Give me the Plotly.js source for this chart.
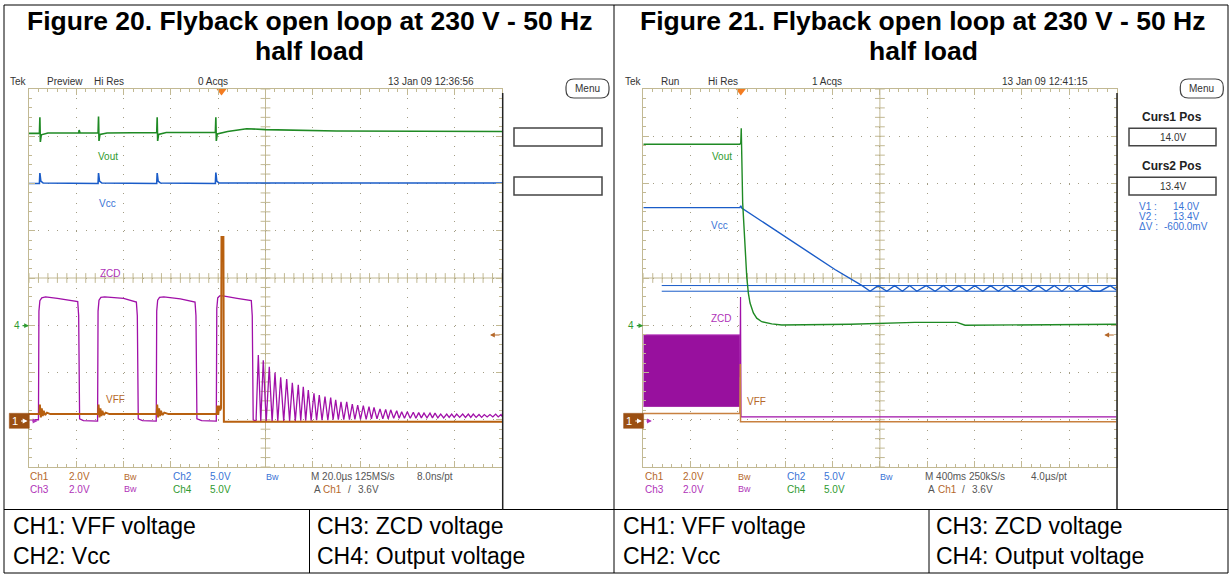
<!DOCTYPE html>
<html><head><meta charset="utf-8">
<script src="https://cdn.plot.ly/plotly-3.0.1.min.js"></script>
<style>html,body{margin:0;padding:0;background:#fff;}#chart{width:1231px;height:574px;}</style>
</head><body><div id="chart"></div>
<script>
// ===== DATA (oscilloscope graticule units: x = divisions 0..10, y = divisions 0..8) =====
// Figure 20 (M 20.0 µs/div)
const f20VoutX = [0.00,0.22,0.23,0.24,0.26,0.40,1.05,1.06,1.08,1.46,1.47,1.48,1.50,1.65,2.70,2.71,2.72,2.74,2.90,3.94,3.95,3.96,3.98,4.20,4.60,5.00,6.50,10.0];
const f20VoutY = [7.06,7.06,7.40,6.88,7.03,7.07,7.07,7.13,7.07,7.07,7.42,6.90,7.04,7.07,7.08,7.40,6.90,7.04,7.08,7.08,7.40,6.90,7.05,7.10,7.16,7.14,7.11,7.10];
const f20VccX = [0.00,0.22,0.23,0.25,0.30,1.46,1.47,1.49,1.54,2.70,2.71,2.73,2.78,3.94,3.95,3.97,4.02,10.0];
const f20VccY = [6.00,6.00,6.22,6.05,6.01,6.00,6.22,6.05,6.01,6.00,6.22,6.05,6.01,6.00,6.23,6.05,6.01,6.01];
const f20ZcdX = [0.00,0.20,0.21,0.23,0.27,0.35,0.60,1.03,1.05,1.07,1.15,1.45,1.46,1.48,1.52,1.60,2.00,2.27,2.29,2.31,2.40,2.69,2.70,2.72,2.76,2.85,3.20,3.51,3.53,3.55,3.65,3.96,3.97,3.99,4.03,4.10,4.40,4.70,4.72,4.74,4.80];
const f20ZcdY = [1.00,1.00,3.30,3.52,3.58,3.60,3.57,3.50,3.20,1.02,0.98,0.97,3.30,3.53,3.59,3.60,3.57,3.49,3.20,1.02,0.98,0.97,3.30,3.53,3.59,3.60,3.56,3.49,3.20,1.02,0.98,0.97,3.35,3.58,3.62,3.62,3.57,3.52,3.20,1.00,0.97];
const f20RingPeakX = [4.848,4.953,5.080,5.201,5.321,5.448,5.567,5.693,5.799,5.905,6.025,6.137,6.258,6.378,6.484,6.596,6.717,6.835,6.949,7.068,7.188,7.294,7.421,7.541,7.647,7.774,7.879,7.998,8.125,8.239,8.351,8.478,8.584,8.704,8.831,8.936,9.042,9.169,9.288,9.393,9.514,9.626,9.746,9.866,9.979];
const f20RingPeakY = [2.37,2.26,2.12,2.00,1.90,1.86,1.78,1.74,1.70,1.63,1.56,1.52,1.49,1.47,1.42,1.38,1.38,1.33,1.31,1.30,1.28,1.26,1.23,1.22,1.21,1.19,1.17,1.17,1.16,1.15,1.14,1.14,1.14,1.12,1.12,1.12,1.12,1.12,1.12,1.12,1.11,1.11,1.11,1.12,1.11];
const f20RingTroughX = [4.900,5.015,5.140,5.260,5.385,5.510,5.630,5.745,5.850,5.965,6.080,6.195,6.318,6.430,6.540,6.655,6.775,6.890,7.008,7.128,7.240,7.357,7.480,7.594,7.710,7.826,7.938,8.060,8.180,8.295,8.414,8.530,8.644,8.767,8.883,8.989,9.105,9.228,9.340,9.453,9.570,9.686,9.806,9.920,10.00];
const f20RingTroughY = [0.96,0.96,0.96,0.97,0.97,0.97,0.97,0.98,0.98,0.98,0.99,0.99,0.99,1.00,1.00,1.00,1.00,1.01,1.01,1.01,1.02,1.02,1.02,1.02,1.03,1.03,1.03,1.03,1.03,1.04,1.04,1.04,1.04,1.04,1.05,1.05,1.05,1.05,1.05,1.05,1.05,1.06,1.06,1.06,1.07];
const f20VffX = [0.00,0.22,0.23,0.25,0.27,0.29,0.31,0.34,0.38,0.45,1.46,1.47,1.49,1.51,1.53,1.55,1.58,1.62,1.70,2.70,2.71,2.73,2.75,2.77,2.79,2.82,2.86,2.95,3.97,3.98,4.00,4.02,4.04,4.06,4.07,4.11,4.12,4.14,10.0];
const f20VffY = [1.12,1.12,1.32,1.05,1.24,1.08,1.19,1.10,1.15,1.12,1.12,1.32,1.05,1.24,1.08,1.19,1.10,1.15,1.12,1.12,1.32,1.05,1.24,1.08,1.19,1.10,1.15,1.12,1.12,1.30,1.10,1.30,1.20,1.25,4.87,4.87,0.96,0.96,0.96];

// Figure 21 (M 400 ms/div)
const f21VoutX = [0.00,2.04,2.06,2.07,2.10,2.135,2.17,2.186,2.22,2.256,2.326,2.397,2.503,2.715,2.926,4.37,5.74,6.63,6.80,10.0];
const f21VoutY = [6.83,6.83,6.86,7.17,5.59,4.87,4.19,4.03,3.68,3.47,3.26,3.15,3.075,3.03,3.005,3.02,3.06,3.06,3.00,3.02];
const f21VccX = [0.00,2.04,2.06,2.08,4.05,4.624,4.793,4.962,5.146,5.311,5.476,5.628,5.780,5.977,6.167,6.336,6.499,6.668,6.837,7.006,7.175,7.340,7.505,7.668,7.837,8.006,8.175,8.345,8.513,8.683,8.846,9.000,9.163,9.332,9.501,9.655,9.867,9.994];
const f21VccY = [5.49,5.49,5.53,5.48,4.18,3.84,3.72,3.84,3.72,3.84,3.72,3.84,3.72,3.84,3.72,3.84,3.72,3.84,3.72,3.84,3.72,3.84,3.72,3.84,3.72,3.84,3.72,3.84,3.72,3.84,3.72,3.84,3.72,3.84,3.72,3.72,3.84,3.75];
const f21ZcdBandX = [0.00,2.04];
const f21ZcdBandLow = [1.28,1.28];
const f21ZcdBandHigh = [2.80,2.80];
const f21ZcdX = [2.04,2.045,2.055,2.065,10.0];
const f21ZcdY = [1.90,3.60,3.60,1.06,1.06];
const f21VffX = [0.00,2.04,2.05,2.055,10.0];
const f21VffY = [1.13,1.13,2.18,0.96,0.96];
const f21CursorX = [0.39,10.0];
const f21CursorLevels = [3.84,3.72];   // Curs1 14.0 V, Curs2 13.4 V

const triggerPos = [4.07, 2.06];
const traceLabels = ['Vout','Vcc','ZCD','VFF'];
const f20LabelX = [1.66,1.66,1.72,1.82], f20LabelY = [6.57,5.57,4.10,1.43];
const f21LabelX = [1.66,1.61,1.66,2.40], f21LabelY = [6.57,5.11,3.14,1.38];

// ===== LAYOUT HELPERS =====
const W = 1231, H = 574;
const PX = x => x / W, PY = y => 1 - y / H;
const SF = '"Liberation Sans", Arial, sans-serif';
const C = {green:'#1f8a24', blue:'#1a5cc8', mag:'#a010a8', vff:'#b8600f', vff2:'#c8803f',
  lGreen:'#2f9a2f', lBlue:'#3a74d6', lMag:'#b033b8', lOr:'#b5682a', grid:'#c2b993', dots:'#a39d84', gray:'#555'};

const traces = [];
function line(x, y, xa, ya, color, width, extra) {
  return Object.assign({type:'scatter', mode:'lines', x, y, xaxis:xa, yaxis:ya,
    line:{color, width}, hoverinfo:'skip', showlegend:false}, extra || {});
}

// crosshair ticks (graticule decoration)
function crosshair(xa, ya) {
  const hx = [], hy = [], vx = [], vy = [];
  for (let k = 0; k <= 50; k++) { hx.push(k / 5); hy.push(4); }
  for (let k = 0; k <= 40; k++) { vx.push(5); vy.push(k / 5); }
  traces.push({type:'scatter', mode:'markers', x:hx, y:hy, xaxis:xa, yaxis:ya, hoverinfo:'skip',
    marker:{symbol:'line-ns', size:7, line:{width:1, color:C.grid}}});
  traces.push({type:'scatter', mode:'markers', x:vx, y:vy, xaxis:xa, yaxis:ya, hoverinfo:'skip',
    marker:{symbol:'line-ew', size:7, line:{width:1, color:C.grid}}});
}
crosshair('x', 'y');
crosshair('x2', 'y2');

// Figure 20 traces
traces.push(line(f20VoutX, f20VoutY, 'x', 'y', C.green, 1.6));
traces.push(line(f20VccX, f20VccY, 'x', 'y', C.blue, 1.6));
const zx = f20ZcdX.slice(), zy = f20ZcdY.slice();
for (let i = 0; i < f20RingPeakX.length; i++) {
  zx.push(f20RingPeakX[i]); zy.push(f20RingPeakY[i]);
  zx.push(f20RingTroughX[i]); zy.push(f20RingTroughY[i]);
}
traces.push(line(zx, zy, 'x', 'y', C.mag, 1.3));
traces.push(line(f20VffX, f20VffY, 'x', 'y', C.vff, 2));

// Figure 21 traces
traces.push(line(f21ZcdBandX, f21ZcdBandLow, 'x2', 'y2', '#9a1aa0', 0.8));
traces.push(line(f21ZcdBandX, f21ZcdBandHigh, 'x2', 'y2', '#c860cc', 1, {fill:'tonexty', fillcolor:'#98109e'}));
traces.push(line(f21ZcdX, f21ZcdY, 'x2', 'y2', C.mag, 1.2));
traces.push(line(f21VffX, f21VffY, 'x2', 'y2', C.vff2, 1.5));
f21CursorLevels.forEach(v => traces.push(line(f21CursorX, [v, v], 'x2', 'y2', C.blue, 1)));
traces.push(line(f21VccX, f21VccY, 'x2', 'y2', C.blue, 1.4));
traces.push(line(f21VoutX, f21VoutY, 'x2', 'y2', C.green, 1.4));

// trigger position markers
traces.push({type:'scatter', mode:'markers', x:[triggerPos[0]], y:[7.96], xaxis:'x', yaxis:'y', cliponaxis:false,
  hoverinfo:'skip', marker:{symbol:'triangle-down', size:9, color:'#f47c20'}});
traces.push({type:'scatter', mode:'markers', x:[triggerPos[1]], y:[7.96], xaxis:'x2', yaxis:'y2', cliponaxis:false,
  hoverinfo:'skip', marker:{symbol:'triangle-down', size:9, color:'#f47c20'}});

function scopeAxis(domain, isX, anchor) {
  return {domain, anchor, range: isX ? [0, 10] : [0, 8], dtick: 1, tick0: 0,
    showgrid: true, gridcolor: C.dots, griddash: '1px,8.46px', gridwidth: 1,
    zeroline: false, showline: true, linecolor: C.grid, linewidth: 1, mirror: 'ticks',
    ticks: 'inside', ticklen: 6, tickwidth: 1, tickcolor: C.grid,
    minor: {dtick: 0.2, tick0: 0, ticks: 'inside', ticklen: 3, tickwidth: 1, tickcolor: C.grid, showgrid: false},
    showticklabels: false, fixedrange: true};
}

const shapes = [];
const annotations = [];
function rectP(x0, y0, x1, y1, lineColor, lw, fill) {
  shapes.push({type:'rect', xref:'paper', yref:'paper', x0:PX(x0), x1:PX(x1), y0:PY(y1), y1:PY(y0),
    line:{color:lineColor, width:lw}, fillcolor: fill || 'rgba(0,0,0,0)'});
}
function lineP(x0, y0, x1, y1, color, w) {
  shapes.push({type:'line', xref:'paper', yref:'paper', x0:PX(x0), x1:PX(x1), y0:PY(y0), y1:PY(y1),
    line:{color, width:w}});
}
function roundRect(x0, y0, x1, y1, r, color, w) {
  const p = (x, y) => PX(x) + ',' + PY(y);
  const path = 'M' + p(x0 + r, y0) + ' L' + p(x1 - r, y0) + ' Q' + p(x1, y0) + ' ' + p(x1, y0 + r) +
    ' L' + p(x1, y1 - r) + ' Q' + p(x1, y1) + ' ' + p(x1 - r, y1) + ' L' + p(x0 + r, y1) +
    ' Q' + p(x0, y1) + ' ' + p(x0, y1 - r) + ' L' + p(x0, y0 + r) + ' Q' + p(x0, y0) + ' ' + p(x0 + r, y0) + ' Z';
  shapes.push({type:'path', xref:'paper', yref:'paper', path, line:{color, width:w}});
}
function T(x, y, text, o) {
  o = o || {};
  annotations.push({xref:'paper', yref:'paper', x:PX(x), y:PY(y), text, showarrow:false,
    xanchor:o.anchor || 'left', yanchor:'middle', borderpad:0,
    font:{family:o.family || SF, size:o.size || 10, color:o.color || '#333', weight:o.weight || 'normal'}});
}
function arrowP(xTip, y, dx, color) {
  annotations.push({xref:'paper', yref:'paper', x:PX(xTip), y:PY(y), ax:dx, ay:0, text:'', showarrow:true,
    arrowhead:2, arrowsize:0.8, arrowwidth:1.2, arrowcolor:color});
}

// table frame
rectP(4, 5, 1228, 573, '#000', 1);
lineP(614, 5, 614, 573, '#000', 1);
lineP(4, 509.5, 1228, 509.5, '#000', 1);
lineP(309.5, 509.5, 309.5, 573, '#000', 1);
lineP(929, 509.5, 929, 573, '#000', 1);

// titles
[[309.5, 'Figure 20. Flyback open loop at 230 V - 50 Hz'], [923, 'Figure 21. Flyback open loop at 230 V - 50 Hz']].forEach(([cx, t]) => {
  T(cx, 21, t, {anchor:'center', size:26.5, weight:'bold', color:'#000'});
  T(cx, 51, 'half load', {anchor:'center', size:26.5, weight:'bold', color:'#000'});
});
// bottom captions
[[12, 316], [622, 935]].forEach(([a, b]) => {
  T(a, 526, 'CH1: VFF voltage', {size:23, color:'#000'});
  T(a, 556, 'CH2: Vcc', {size:23, color:'#000'});
  T(b, 526, 'CH3: ZCD voltage', {size:23, color:'#000'});
  T(b, 556, 'CH4: Output voltage', {size:23, color:'#000'});
});

// scope decorations (both screens)
const scopes = [
  {ox:0, head:['Preview','0 Acqs','13 Jan 09 12:36:56'], tb:'M 20.0µs 125MS/s', pt:'8.0ns/pt'},
  {ox:614.3, head:['Run','1 Acqs','13 Jan 09 12:41:15'], tb:'M 400ms 250kS/s', pt:'4.0µs/pt'}
];
scopes.forEach(s => {
  const o = s.ox;
  T(o + 9.3, 81, 'Tek'); T(o + 45.7, 81, s.head[0]); T(o + 92.7, 81, 'Hi Res');
  T(o + 196.7, 81, s.head[1]); T(o + 386.5, 81, s.head[2]);
  roundRect(o + 566, 79, o + 609, 98, 8, '#444', 1.2);
  T(o + 587.5, 88.5, 'Menu', {anchor:'center'});
  lineP(o + 502.7, 93, o + 502.7, 509.5, '#222', 1.5);
  // status rows
  T(o + 29.3, 477, 'Ch1', {color:C.lOr}); T(o + 67.7, 477, '2.0V', {color:C.lOr}); T(o + 122.7, 477, 'Bw', {color:C.lOr, size:9});
  T(o + 171.7, 477, 'Ch2', {color:C.lBlue}); T(o + 209, 477, '5.0V', {color:C.lBlue}); T(o + 265, 477, 'Bw', {color:C.lBlue, size:9});
  T(o + 310, 477, s.tb, {color:C.gray}); T(o + 416, 477, s.pt, {color:C.gray});
  T(o + 29.3, 489, 'Ch3', {color:C.lMag}); T(o + 67.7, 489, '2.0V', {color:C.lMag}); T(o + 122.7, 489, 'Bw', {color:C.lMag, size:9});
  T(o + 171.7, 489, 'Ch4', {color:C.lGreen}); T(o + 209, 489, '5.0V', {color:C.lGreen});
  T(o + 312.5, 489, 'A', {color:C.gray}); T(o + 322.4, 489, 'Ch1', {color:C.lOr});
  T(o + 347, 489, '/', {color:C.gray}); T(o + 357, 489, '3.6V', {color:C.gray});
  // channel markers
  T(o + 16.5, 325.7, '4', {anchor:'center', color:C.lGreen});
  arrowP(o + 29, 325.7, -8, C.lGreen);
  rectP(o + 9.3, 413.3, o + 29.3, 428.3, '#9b4f12', 0.5, '#9b4f12');
  T(o + 14.5, 421, '1', {anchor:'center', color:'#fff', size:11});
  arrowP(o + 27.5, 421, -8, '#fff');
  arrowP(o + 37.5, 421, -7, C.lMag);
  arrowP(o + 490, 335, 11, '#b5682a');
});
// right-hand panel of Figure 20
rectP(514, 128, 602, 146, '#444', 1.5);
rectP(514, 177, 602, 195, '#444', 1.5);
// right-hand panel of Figure 21 (cursor readout)
T(1172, 117, 'Curs1 Pos', {anchor:'center', size:12, weight:'bold', color:'#222'});
rectP(1129, 128.3, 1216, 145.7, '#444', 1.5);
T(1172.5, 137, '14.0V', {anchor:'center'});
T(1172, 166, 'Curs2 Pos', {anchor:'center', size:12, weight:'bold', color:'#222'});
rectP(1129, 177.3, 1216, 195, '#444', 1.5);
T(1172.5, 186, '13.4V', {anchor:'center'});
T(1138, 206.7, 'V1 :', {color:C.lBlue}); T(1186, 206.7, '14.0V', {anchor:'center', color:C.lBlue});
T(1138, 216.7, 'V2 :', {color:C.lBlue}); T(1186, 216.7, '13.4V', {anchor:'center', color:C.lBlue});
T(1138, 226.7, 'ΔV :', {color:C.lBlue}); T(1186, 226.7, '-600.0mV', {anchor:'center', color:C.lBlue});

// crosshair centre lines
[['x','y'],['x2','y2']].forEach(([xa, ya]) => {
  shapes.push({type:'line', xref:xa, yref:ya, x0:5, x1:5, y0:0, y1:8, line:{color:C.grid, width:1}, layer:'below'});
  shapes.push({type:'line', xref:xa, yref:ya, x0:0, x1:10, y0:4, y1:4, line:{color:C.grid, width:1}, layer:'below'});
});

// trace name labels
const labelColors = [C.lGreen, C.lBlue, C.lMag, C.lOr];
traceLabels.forEach((t, i) => {
  annotations.push({xref:'x', yref:'y', x:f20LabelX[i], y:f20LabelY[i], text:t, showarrow:false,
    font:{family:SF, size:10, color:labelColors[i]}});
  annotations.push({xref:'x2', yref:'y2', x:f21LabelX[i], y:f21LabelY[i], text:t, showarrow:false,
    font:{family:SF, size:10, color:labelColors[i]}});
});

const layout = {
  width: W, height: H, margin: {l:0, r:0, t:0, b:0},
  paper_bgcolor: '#fff', plot_bgcolor: '#fff', showlegend: false,
  xaxis: scopeAxis([PX(29), PX(502)], true, 'y'),
  yaxis: scopeAxis([PY(467), PY(89)], false, 'x'),
  xaxis2: scopeAxis([PX(643.3), PX(1116.5)], true, 'y2'),
  yaxis2: scopeAxis([PY(467), PY(89)], false, 'x2'),
  shapes, annotations
};
Plotly.newPlot('chart', traces, layout, {staticPlot: true, displayModeBar: false});
</script></body></html>
